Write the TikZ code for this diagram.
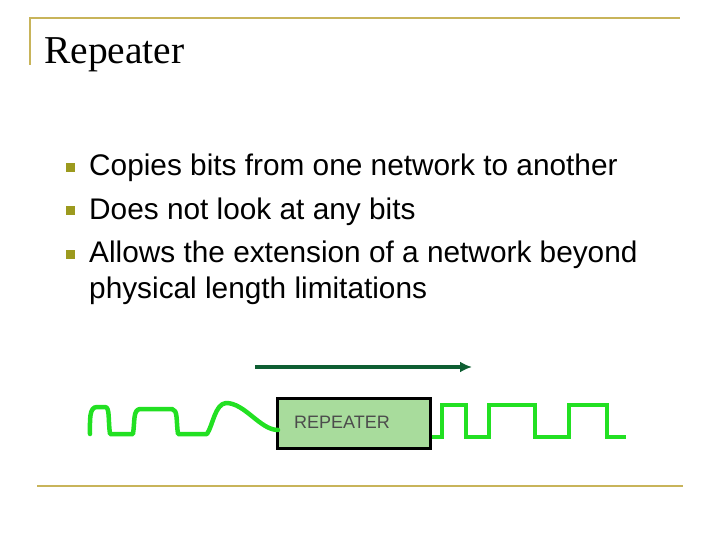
\documentclass[tikz,border=0pt]{standalone}
\usepackage{fontspec}
\usetikzlibrary{arrows.meta}
\setmainfont{Liberation Serif}
\newfontfamily\arial{Liberation Sans}
\definecolor{rule}{HTML}{C8B45A}
\definecolor{bul}{HTML}{9C9A1E}
\definecolor{sig}{HTML}{22E022}
\definecolor{arr}{HTML}{0E5E32}
\definecolor{boxf}{HTML}{A8DC9C}
\begin{document}
\begin{tikzpicture}[x=1pt,y=-1pt,
  btxt/.style={anchor=base west,font=\arial\fontsize{29.8}{34}\selectfont,inner sep=0},
  bsq/.style={fill=bul,minimum size=9pt,inner sep=0},
  wave/.style={sig,line width=4.5pt,line join=round,line cap=round}]
\useasboundingbox (0,0) rectangle (720,540);
\draw[rule,line width=1.5pt] (30,65) -- (30,18) -- (680,18);
\draw[rule,line width=1.5pt] (37,486) -- (683,486);
\node[anchor=base west,inner sep=0,font=\fontsize{39.5}{44}\selectfont] (t) at (44,64) {Repeater};
\node[bsq] (b1) at (70,168) {};
\node[bsq] (b2) at (70,211) {};
\node[bsq] (b3) at (70,254) {};
\node[btxt] (l1) at (89,176) {Copies bits from one network to another};
\node[btxt] (l2) at (89,219) {Does not look at any bits};
\node[btxt] (l3) at (89,262) {Allows the extension of a network beyond};
\node[btxt] (l4) at (89,298) {physical length limitations};
\coordinate (a1) at (255,367); \coordinate (a2) at (472,367);
\draw[arr,line width=3.5pt,-{Latex[length=12pt,width=11pt]}] (a1) -- (a2);
\node[draw=black,line width=3pt,fill=boxf,minimum width=153pt,minimum height=50pt,inner sep=0] (box) at (353.5,423.5) {};
\node[anchor=base west,inner sep=0,font=\arial\fontsize{18}{21}\selectfont,text=black!70] (bl) at (294,428) {REPEATER};
\draw[wave] (90,434) .. controls (90,420) and (89,407) .. (97,407) -- (105,407) .. controls (110,407) and (108,420) .. (110,434)
  -- (133,434) .. controls (135,420) and (133,410) .. (140,409) -- (172,409) .. controls (178,410) and (176,420) .. (178,434)
  -- (207,434) .. controls (213,425) and (215,404) .. (226,403) .. controls (245,403) and (260,430) .. (278,430);
\draw[wave,line cap=butt,line join=miter] (432,437) -- (442,437) -- (442,405) -- (466,405) -- (466,437) -- (489,437) -- (489,405)
  -- (535,405) -- (535,437) -- (569,437) -- (569,405) -- (607,405) -- (607,437) -- (626,437);
\end{tikzpicture}
\end{document}
